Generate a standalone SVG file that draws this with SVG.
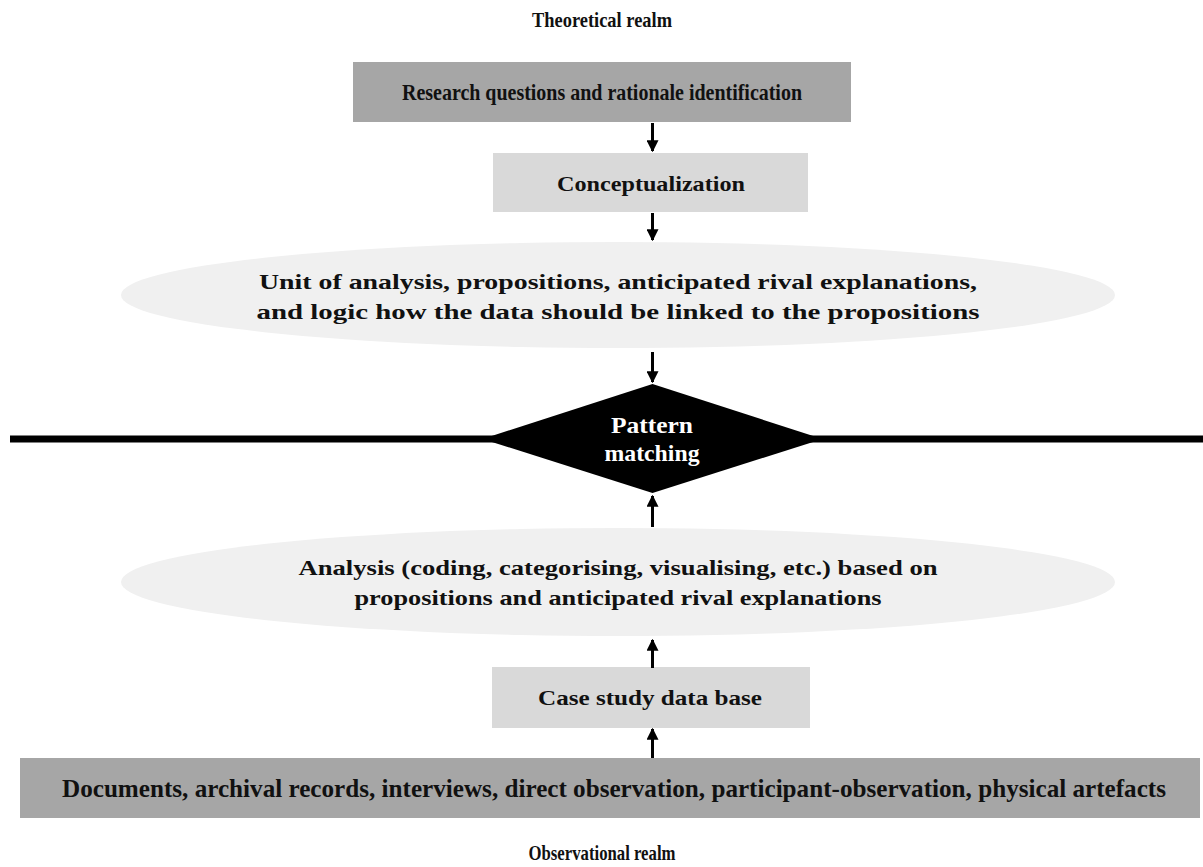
<svg xmlns="http://www.w3.org/2000/svg" width="1203" height="867" viewBox="0 0 1203 867">
<style>
text{font-family:"Liberation Serif","Times New Roman",serif;font-weight:bold;font-size:22px;fill:#111;}
.w{fill:#fff;font-size:24px;}
.big{font-size:24px;}
.xl{font-size:25px;}
.dark{fill:#a6a6a6;}
.mid{fill:#d9d9d9;}
.lite{fill:#f0f0f0;}
.conn{stroke:#000;stroke-width:3;fill:none;}
</style>
<defs>
<marker id="ah" viewBox="0 0 10 10" refX="9" refY="5" markerWidth="4" markerHeight="4" orient="auto" markerUnits="strokeWidth">
<path d="M0,0 L10,5 L0,10 z" fill="#000"/>
</marker>
</defs>
<rect width="1203" height="867" fill="#fff"/>
<g id="title-top"><text x="602" y="27" text-anchor="middle" textLength="140" lengthAdjust="spacingAndGlyphs">Theoretical realm</text></g>
<g id="research"><rect class="dark" x="353" y="62" width="498" height="60"/><text class="big" x="602" y="100" text-anchor="middle" textLength="400" lengthAdjust="spacingAndGlyphs">Research questions and rationale identification</text></g>
<g id="concept"><rect class="mid" x="493" y="153" width="315" height="59"/><text x="651" y="191" text-anchor="middle" textLength="188" lengthAdjust="spacingAndGlyphs">Conceptualization</text></g>
<g id="unit"><ellipse class="lite" cx="618" cy="295" rx="497" ry="53"/><text x="618" y="289" text-anchor="middle" textLength="718" lengthAdjust="spacingAndGlyphs">Unit of analysis, propositions,  anticipated rival explanations,</text><text x="618" y="319" text-anchor="middle" textLength="723" lengthAdjust="spacingAndGlyphs">and logic how the data should be linked to the propositions</text></g>
<g id="divider"><line x1="10" y1="439" x2="1203" y2="439" stroke="#000" stroke-width="7"/></g>
<g id="pattern"><polygon points="652.5,384 822.5,439 652.5,493 482.5,439" fill="#000"/><text class="w" x="652" y="433" text-anchor="middle" textLength="82" lengthAdjust="spacingAndGlyphs">Pattern</text><text class="w" x="652" y="461" text-anchor="middle" textLength="95" lengthAdjust="spacingAndGlyphs">matching</text></g>
<g id="analysis"><ellipse class="lite" cx="618" cy="582" rx="497" ry="54"/><text x="618" y="575" text-anchor="middle" textLength="639" lengthAdjust="spacingAndGlyphs">Analysis (coding, categorising, visualising, etc.) based on</text><text x="618" y="605" text-anchor="middle" textLength="527" lengthAdjust="spacingAndGlyphs">propositions and anticipated rival explanations</text></g>
<g id="casedb"><rect class="mid" x="492" y="667" width="318" height="61"/><text x="650" y="705" text-anchor="middle" textLength="224" lengthAdjust="spacingAndGlyphs">Case study data base</text></g>
<g id="sources"><rect class="dark" x="20" y="758" width="1180" height="60"/><text class="xl" x="614" y="797" text-anchor="middle" textLength="1104" lengthAdjust="spacingAndGlyphs">Documents, archival records, interviews, direct observation, participant-observation, physical artefacts</text></g>
<g id="title-bottom"><text x="602" y="860" text-anchor="middle" textLength="147" lengthAdjust="spacingAndGlyphs">Observational realm</text></g>
<g id="connectors">
<line class="conn" x1="652.5" y1="123" x2="652.5" y2="151" marker-end="url(#ah)"/>
<line class="conn" x1="652.5" y1="213" x2="652.5" y2="240" marker-end="url(#ah)"/>
<line class="conn" x1="652.5" y1="352" x2="652.5" y2="382" marker-end="url(#ah)"/>
<line class="conn" x1="652.5" y1="527" x2="652.5" y2="496" marker-end="url(#ah)"/>
<line class="conn" x1="652.5" y1="668" x2="652.5" y2="640" marker-end="url(#ah)"/>
<line class="conn" x1="652.5" y1="758" x2="652.5" y2="729" marker-end="url(#ah)"/>
</g>
</svg>
